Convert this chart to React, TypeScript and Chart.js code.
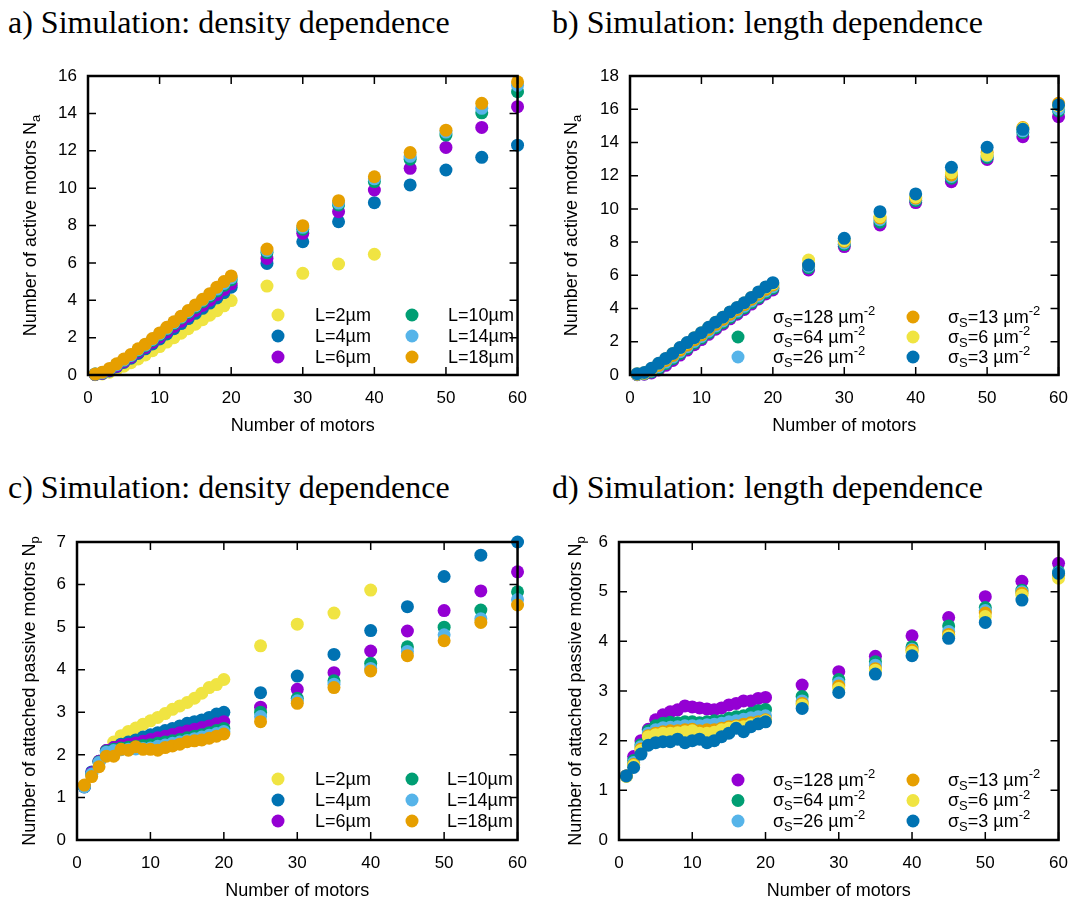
import React, { useEffect, useRef } from 'react';
import { Chart, registerables } from 'chart.js';
Chart.register(...registerables);

const YELLOW = '#f0e442';
const BLUE = '#0072b2';
const PURPLE = '#9400d3';
const GREEN = '#009e73';
const LIGHTBLUE = '#56b4e9';
const ORANGE = '#e69f00';

// x values (number of motors)
const motorsAll = [1, 2, 3, 4, 5, 6, 7, 8, 9, 10, 11, 12, 13, 14, 15, 16, 17, 18, 19, 20, 25, 30, 35, 40, 45, 50, 55, 60];
const motorsShort = [1, 2, 3, 4, 5, 6, 7, 8, 9, 10, 11, 12, 13, 14, 15, 16, 17, 18, 19, 20, 25, 30, 35, 40];

// tick settings
const xTicksMax = 60;
const xTickStep = 10;

// legend labels
const lengthLabels = ['2', '4', '6', '10', '14', '18'];
const densityLabels = ['128', '64', '26', '13', '6', '3'];

// a) active motors, density dependence (L series)
const aL2 = [0.02, 0.06, 0.15, 0.3, 0.47, 0.66, 0.86, 1.07, 1.3, 1.52, 1.76, 2.0, 2.24, 2.48, 2.72, 2.96, 3.2, 3.44, 3.7, 3.98, 4.76, 5.44, 5.94, 6.46];
const aL4 = [0.03, 0.08, 0.22, 0.44, 0.67, 0.9, 1.15, 1.4, 1.66, 1.93, 2.2, 2.48, 2.75, 3.02, 3.3, 3.57, 3.85, 4.12, 4.4, 4.7, 5.97, 7.13, 8.2, 9.22, 10.17, 10.97, 11.65, 12.3];
const aL6 = [0.03, 0.1, 0.25, 0.48, 0.72, 0.96, 1.22, 1.48, 1.75, 2.03, 2.3, 2.6, 2.88, 3.15, 3.45, 3.72, 4.0, 4.3, 4.58, 4.88, 6.24, 7.58, 8.74, 9.9, 11.06, 12.18, 13.25, 14.36];
const aL10 = [0.05, 0.12, 0.3, 0.55, 0.78, 1.03, 1.3, 1.57, 1.85, 2.15, 2.45, 2.75, 3.05, 3.35, 3.62, 3.92, 4.22, 4.5, 4.8, 5.1, 6.55, 7.8, 9.1, 10.35, 11.55, 12.84, 14.03, 15.16];
const aL14 = [0.05, 0.12, 0.3, 0.55, 0.8, 1.05, 1.35, 1.6, 1.9, 2.2, 2.5, 2.8, 3.1, 3.4, 3.7, 4.0, 4.3, 4.6, 4.9, 5.2, 6.65, 7.9, 9.2, 10.5, 11.7, 13.0, 14.27, 15.5];
const aL18 = [0.05, 0.15, 0.35, 0.6, 0.85, 1.1, 1.4, 1.65, 1.95, 2.25, 2.55, 2.85, 3.15, 3.45, 3.75, 4.05, 4.35, 4.7, 5.0, 5.3, 6.74, 7.99, 9.33, 10.61, 11.9, 13.1, 14.54, 15.69];

// b) active motors, length dependence (sigma series)
const bS128 = [0.02, 0.05, 0.12, 0.3, 0.58, 0.88, 1.2, 1.5, 1.82, 2.13, 2.45, 2.76, 3.06, 3.38, 3.66, 3.95, 4.27, 4.58, 4.88, 5.12, 6.32, 7.73, 9.03, 10.38, 11.64, 12.98, 14.35, 15.55];
const bS64 = [0.03, 0.07, 0.18, 0.4, 0.68, 0.98, 1.3, 1.6, 1.92, 2.22, 2.54, 2.85, 3.15, 3.46, 3.75, 4.04, 4.36, 4.66, 4.96, 5.22, 6.45, 7.85, 9.2, 10.5, 11.85, 13.1, 14.6, 15.9];
const bS26 = [0.04, 0.09, 0.24, 0.5, 0.78, 1.08, 1.4, 1.7, 2.02, 2.32, 2.64, 2.95, 3.25, 3.56, 3.85, 4.14, 4.46, 4.76, 5.06, 5.32, 6.55, 7.95, 9.35, 10.6, 11.95, 13.2, 14.7, 16.0];
const bS13 = [0.05, 0.11, 0.3, 0.58, 0.88, 1.18, 1.5, 1.8, 2.12, 2.42, 2.74, 3.05, 3.35, 3.66, 3.95, 4.24, 4.56, 4.86, 5.16, 5.42, 6.65, 8.05, 9.45, 10.65, 12.04, 13.4, 14.9, 16.36];
const bS6 = [0.07, 0.14, 0.37, 0.68, 0.98, 1.3, 1.62, 1.93, 2.24, 2.54, 2.86, 3.17, 3.47, 3.78, 4.05, 4.34, 4.66, 4.97, 5.27, 5.5, 6.92, 8.1, 9.53, 10.72, 12.18, 13.25, 14.85, 16.2];
const bS3 = [0.08, 0.15, 0.4, 0.7, 1.0, 1.3, 1.65, 1.95, 2.25, 2.55, 2.87, 3.18, 3.48, 3.8, 4.07, 4.35, 4.67, 5.0, 5.3, 5.56, 6.62, 8.23, 9.83, 10.9, 12.5, 13.71, 14.79, 16.26];

// c) passive motors, density dependence (L series)
const cL2 = [1.27, 1.55, 1.85, 2.1, 2.3, 2.45, 2.55, 2.63, 2.72, 2.8, 2.88, 2.97, 3.07, 3.15, 3.23, 3.33, 3.45, 3.58, 3.65, 3.77, 4.56, 5.07, 5.33, 5.87];
const cL4 = [1.25, 1.6, 1.85, 2.1, 2.17, 2.25, 2.3, 2.35, 2.42, 2.47, 2.52, 2.57, 2.62, 2.68, 2.74, 2.78, 2.82, 2.88, 2.96, 3.0, 3.46, 3.85, 4.36, 4.92, 5.48, 6.19, 6.69, 7.0];
const cL6 = [1.25, 1.58, 1.85, 2.1, 2.17, 2.22, 2.25, 2.28, 2.32, 2.36, 2.4, 2.44, 2.48, 2.52, 2.56, 2.6, 2.64, 2.68, 2.73, 2.78, 3.12, 3.54, 3.93, 4.44, 4.91, 5.39, 5.85, 6.3];
const cL10 = [1.25, 1.55, 1.83, 2.08, 2.13, 2.16, 2.18, 2.2, 2.22, 2.24, 2.27, 2.3, 2.33, 2.36, 2.4, 2.44, 2.47, 2.52, 2.57, 2.62, 3.0, 3.33, 3.74, 4.15, 4.54, 5.0, 5.4, 5.83];
const cL14 = [1.25, 1.55, 1.82, 2.06, 2.1, 2.12, 2.13, 2.14, 2.15, 2.16, 2.2, 2.23, 2.27, 2.3, 2.34, 2.38, 2.42, 2.46, 2.5, 2.55, 2.9, 3.27, 3.66, 4.03, 4.43, 4.82, 5.2, 5.65];
const cL18 = [1.29, 1.49, 1.72, 1.97, 1.97, 2.13, 2.11, 2.19, 2.13, 2.13, 2.11, 2.17, 2.21, 2.25, 2.31, 2.33, 2.35, 2.39, 2.44, 2.49, 2.78, 3.21, 3.58, 3.97, 4.33, 4.68, 5.11, 5.52];

// d) passive motors, length dependence (sigma series)
const dS128 = [1.29, 1.68, 2.0, 2.23, 2.42, 2.52, 2.58, 2.62, 2.7, 2.68, 2.66, 2.64, 2.62, 2.66, 2.72, 2.75, 2.8, 2.8, 2.85, 2.87, 3.12, 3.39, 3.7, 4.11, 4.48, 4.9, 5.21, 5.57];
const dS64 = [1.29, 1.6, 1.92, 2.2, 2.3, 2.35, 2.37, 2.36, 2.38, 2.38, 2.36, 2.38, 2.4, 2.4, 2.45, 2.48, 2.5, 2.55, 2.6, 2.63, 2.89, 3.23, 3.59, 3.89, 4.31, 4.68, 5.03, 5.4];
const dS26 = [1.29, 1.56, 1.88, 2.15, 2.22, 2.26, 2.27, 2.28, 2.3, 2.3, 2.3, 2.32, 2.33, 2.35, 2.38, 2.4, 2.43, 2.46, 2.48, 2.5, 2.8, 3.16, 3.52, 3.84, 4.2, 4.62, 5.0, 5.38];
const dS13 = [1.29, 1.52, 1.83, 2.1, 2.15, 2.18, 2.2, 2.2, 2.22, 2.23, 2.2, 2.22, 2.22, 2.25, 2.28, 2.3, 2.33, 2.36, 2.38, 2.42, 2.75, 3.1, 3.45, 3.82, 4.14, 4.57, 4.97, 5.33];
const dS6 = [1.28, 1.5, 1.8, 2.08, 2.12, 2.15, 2.15, 2.16, 2.18, 2.2, 2.15, 2.15, 2.17, 2.22, 2.25, 2.28, 2.28, 2.32, 2.35, 2.4, 2.72, 3.05, 3.42, 3.78, 4.1, 4.5, 4.93, 5.27];
const dS3 = [1.29, 1.46, 1.73, 1.91, 1.96, 1.98, 1.98, 2.03, 1.96, 2.0, 2.03, 1.96, 2.0, 2.08, 2.15, 2.25, 2.18, 2.28, 2.34, 2.38, 2.65, 2.97, 3.34, 3.71, 4.06, 4.38, 4.83, 5.37];

type Seg = [string, 'n' | 'sub' | 'sup'];

const lengthSegs = (v: string): Seg[] => [['L=' + v + 'µm', 'n']];
const densitySegs = (v: string): Seg[] => [['σ', 'n'], ['S', 'sub'], ['=' + v + ' µm', 'n'], ['-2', 'sup']];

const SANS = '"Liberation Sans", Arial, sans-serif';

function segFont(k: string, size: number) {
  const fs = k === 'n' ? size : Math.round(size * 0.7);
  return `${fs}px ${SANS}`;
}
function richWidth(ctx: CanvasRenderingContext2D, segs: Seg[], size: number) {
  let w = 0;
  for (const [t, k] of segs) {
    ctx.font = segFont(k, size);
    w += ctx.measureText(t).width;
  }
  return w;
}
function drawRich(ctx: CanvasRenderingContext2D, segs: Seg[], x: number, y: number, size: number) {
  let cx = x;
  ctx.textAlign = 'left';
  ctx.textBaseline = 'middle';
  for (const [t, k] of segs) {
    ctx.font = segFont(k, size);
    const dy = k === 'sub' ? size * 0.28 : k === 'sup' ? -size * 0.36 : 0;
    ctx.fillText(t, cx, y + dy);
    cx += ctx.measureText(t).width;
  }
}

interface SeriesDef { ys: number[]; xs: number[]; color: string; segs: Seg[]; marker: boolean }
interface PanelDef {
  title: string;
  titleLeft: number;
  titleTop: number;
  left: number; top: number; width: number; height: number;
  padL: number; padT: number; padR: number; padB: number;
  yMax: number; yStep: number;
  yTitle: Seg[];
  yTitleX: number;
  xTitleY: number;
  legend: { m1: number; t1: number; m2: number; t2: number; y0: number; gap: number };
  series: SeriesDef[];
}

const POINT_R = 6.5;

function Panel({ def }: { def: PanelDef }) {
  const ref = useRef<HTMLCanvasElement | null>(null);
  useEffect(() => {
    const canvas = ref.current;
    if (!canvas) return;
    const n = def.series.length;
    const datasets = def.series.map((s, i) => ({
      label: s.segs.map((g) => g[0]).join(''),
      data: s.xs.map((x, j) => ({ x, y: s.ys[j] })),
      backgroundColor: s.color,
      borderColor: s.color,
      borderWidth: 0,
      pointRadius: POINT_R,
      pointHoverRadius: POINT_R,
      clip: false as any,
      order: n - 1 - i,
    }));
    const overlay = {
      id: 'overlay',
      afterDatasetsDraw(chart: any) {
        const ctx: CanvasRenderingContext2D = chart.ctx;
        const { left, right, top, bottom } = chart.chartArea;
        const xs = chart.scales.x;
        const ys = chart.scales.y;
        ctx.save();
        ctx.strokeStyle = '#000';
        ctx.lineWidth = 1.5;
        ctx.beginPath();
        const tl = 8;
        xs.ticks.forEach((t: any) => {
          const px = xs.getPixelForValue(t.value);
          ctx.moveTo(px, bottom); ctx.lineTo(px, bottom - tl);
          ctx.moveTo(px, top); ctx.lineTo(px, top + tl);
        });
        ys.ticks.forEach((t: any) => {
          const py = ys.getPixelForValue(t.value);
          ctx.moveTo(left, py); ctx.lineTo(left + tl, py);
          ctx.moveTo(right, py); ctx.lineTo(right - tl, py);
        });
        ctx.stroke();
        ctx.lineWidth = 2.5;
        ctx.strokeRect(left, top, right - left, bottom - top);
        ctx.fillStyle = '#000';
        // x title
        ctx.font = `18px ${SANS}`;
        ctx.textAlign = 'center';
        ctx.textBaseline = 'middle';
        ctx.fillText('Number of motors', (left + right) / 2, def.xTitleY);
        // y title
        ctx.save();
        ctx.translate(def.yTitleX, (top + bottom) / 2);
        ctx.rotate(-Math.PI / 2);
        const w = richWidth(ctx, def.yTitle, 18);
        drawRich(ctx, def.yTitle, -w / 2, 0, 18);
        ctx.restore();
        // legend
        const L = def.legend;
        def.series.forEach((s, i) => {
          const col = i < 3 ? 0 : 1;
          const row = i % 3;
          const y = L.y0 + row * L.gap;
          const mx = col === 0 ? L.m1 : L.m2;
          const tx = col === 0 ? L.t1 : L.t2;
          if (s.marker) {
            ctx.fillStyle = s.color;
            ctx.beginPath();
            ctx.arc(mx, y, POINT_R, 0, Math.PI * 2);
            ctx.fill();
          }
          ctx.fillStyle = '#000';
          drawRich(ctx, s.segs, tx, y + 1, 18);
        });
        ctx.restore();
      },
    };
    const chart = new Chart(canvas, {
      type: 'scatter',
      data: { datasets: datasets as any },
      options: {
        animation: false,
        responsive: false,
        maintainAspectRatio: false,
        devicePixelRatio: 1,
        events: [],
        layout: { padding: { left: 0, top: def.padT, right: def.padR, bottom: 0 } },
        plugins: { legend: { display: false }, tooltip: { enabled: false }, title: { display: false } },
        scales: {
          x: {
            type: 'linear',
            min: 0,
            max: xTicksMax,
            ticks: { stepSize: xTickStep, color: '#000', font: { family: SANS, size: 17 }, padding: 13 },
            grid: { display: false, drawTicks: false },
            border: { display: false },
            afterFit: (s: any) => { s.height = def.padB; },
          },
          y: {
            type: 'linear',
            min: 0,
            max: def.yMax,
            ticks: { stepSize: def.yStep, color: '#000', font: { family: SANS, size: 17 }, padding: 11 },
            grid: { display: false, drawTicks: false },
            border: { display: false },
            afterFit: (s: any) => { s.width = def.padL; },
          },
        },
      } as any,
      plugins: [overlay],
    });
    return () => chart.destroy();
  }, [def]);
  return (
    <>
      <div
        style={{
          position: 'absolute',
          left: def.titleLeft,
          top: def.titleTop,
          font: '32px "Liberation Serif", "Times New Roman", serif',
          lineHeight: '30px',
          whiteSpace: 'nowrap',
          color: '#000',
        }}
      >
        {def.title}
      </div>
      <canvas
        ref={ref}
        width={def.width}
        height={def.height}
        style={{ position: 'absolute', left: def.left, top: def.top, width: def.width, height: def.height, display: 'block' }}
      />
    </>
  );
}

const lengthColors = [YELLOW, BLUE, PURPLE, GREEN, LIGHTBLUE, ORANGE];
const densityColors = [PURPLE, GREEN, LIGHTBLUE, ORANGE, YELLOW, BLUE];

const panelA: PanelDef = {
  title: 'a) Simulation: density dependence',
  titleLeft: 8, titleTop: 7,
  left: 0, top: 40, width: 540, height: 400,
  padL: 88, padT: 36, padR: 20, padB: 65,
  yMax: 16, yStep: 2,
  yTitle: [['Number of active motors N', 'n'], ['a', 'sub']],
  yTitleX: 31, xTitleY: 386,
  legend: { m1: 278, t1: 315, m2: 412, t2: 448, y0: 275, gap: 21 },
  series: [aL2, aL4, aL6, aL10, aL14, aL18].map((ys, i) => ({
    ys, xs: i === 0 ? motorsShort : motorsAll, color: lengthColors[i], segs: lengthSegs(lengthLabels[i]), marker: true,
  })),
};

const panelB: PanelDef = {
  title: 'b) Simulation: length dependence',
  titleLeft: 552, titleTop: 7,
  left: 541, top: 40, width: 540, height: 400,
  padL: 89, padT: 36, padR: 19, padB: 65,
  yMax: 18, yStep: 2,
  yTitle: [['Number of active motors N', 'n'], ['a', 'sub']],
  yTitleX: 31, xTitleY: 386,
  legend: { m1: 197, t1: 232, m2: 372, t2: 407, y0: 277, gap: 20 },
  series: [bS128, bS64, bS26, bS13, bS6, bS3].map((ys, i) => ({
    ys, xs: motorsAll, color: densityColors[i], segs: densitySegs(densityLabels[i]), marker: i !== 0,
  })),
};

const panelC: PanelDef = {
  title: 'c) Simulation: density dependence',
  titleLeft: 8, titleTop: 472,
  left: 0, top: 505, width: 540, height: 399,
  padL: 77, padT: 37, padR: 21, padB: 64,
  yMax: 7, yStep: 1,
  yTitle: [['Number of attached passive motors N', 'n'], ['p', 'sub']],
  yTitleX: 30, xTitleY: 386,
  legend: { m1: 278, t1: 315, m2: 412, t2: 447, y0: 274, gap: 21 },
  series: [cL2, cL4, cL6, cL10, cL14, cL18].map((ys, i) => ({
    ys, xs: i === 0 ? motorsShort : motorsAll, color: lengthColors[i], segs: lengthSegs(lengthLabels[i]), marker: true,
  })),
};

const panelD: PanelDef = {
  title: 'd) Simulation: length dependence',
  titleLeft: 552, titleTop: 472,
  left: 541, top: 505, width: 540, height: 399,
  padL: 78, padT: 37, padR: 18, padB: 64,
  yMax: 6, yStep: 1,
  yTitle: [['Number of attached passive motors N', 'n'], ['p', 'sub']],
  yTitleX: 35, xTitleY: 386,
  legend: { m1: 197, t1: 232, m2: 372, t2: 407, y0: 275, gap: 20.5 },
  series: [dS128, dS64, dS26, dS13, dS6, dS3].map((ys, i) => ({
    ys, xs: motorsAll, color: densityColors[i], segs: densitySegs(densityLabels[i]), marker: true,
  })),
};

export default function App() {
  return (
    <div style={{ position: 'absolute', left: 0, top: 0, width: 1081, height: 904, background: '#fff', overflow: 'hidden' }}>
      <Panel def={panelA} />
      <Panel def={panelB} />
      <Panel def={panelC} />
      <Panel def={panelD} />
    </div>
  );
}
